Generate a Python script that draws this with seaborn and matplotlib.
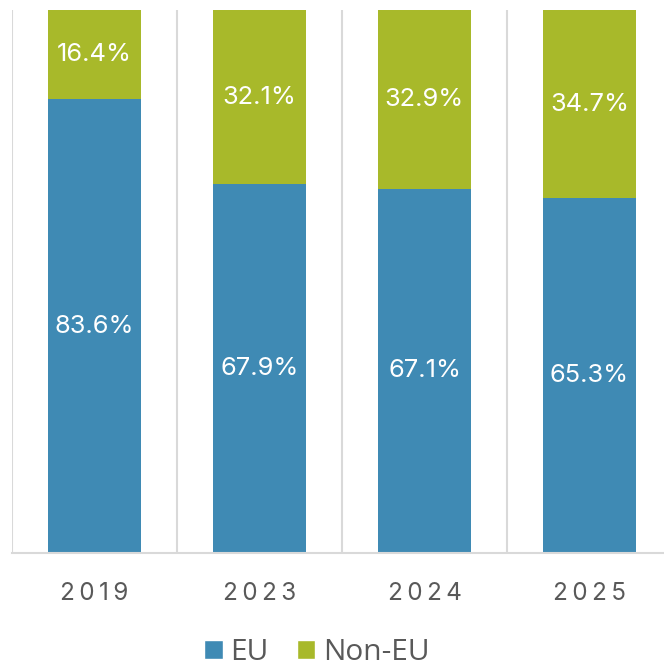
import matplotlib
matplotlib.use("Agg")
import matplotlib.pyplot as plt
import seaborn as sns
import pandas as pd
from matplotlib.patches import Patch

years = ["2019", "2023", "2024", "2025"]
eu = [83.6, 67.9, 67.1, 65.3]
non_eu = [16.4, 32.1, 32.9, 34.7]

blue = "#3F8AB4"
green = "#A8B92A"
grey_text = "#595959"

df = pd.DataFrame({"year": years, "EU": eu, "Non-EU": non_eu})
df["total"] = df["EU"] + df["Non-EU"]

sns.set_theme(style="white")
plt.rcParams["font.family"] = ["Inter", "DejaVu Sans"]

fig = plt.figure(figsize=(6.64, 6.71), dpi=100)
ax = fig.add_axes([12 / 664, 118 / 671, 660 / 664, 543 / 671])

sns.barplot(data=df, x="year", y="total", color=green, width=0.558,
            saturation=1, ax=ax, edgecolor="none")
sns.barplot(data=df, x="year", y="EU", color=blue, width=0.558,
            saturation=1, ax=ax, edgecolor="none")

ax.set_ylim(0, 100)
ax.set_xlim(-0.5, 3.5)
ax.set_xlabel("")
ax.set_ylabel("")
ax.set_yticks([])

# category separators
for xv in [-0.5, 0.5, 1.5, 2.5, 3.5]:
    ax.axvline(xv, color="#D9D9D9", lw=1.5, zorder=0)

for s in ["top", "right", "left"]:
    ax.spines[s].set_visible(False)
ax.spines["bottom"].set_color("#D9D9D9")
ax.spines["bottom"].set_linewidth(1.5)

# spaced-out year labels
ax.set_xticks(range(len(years)))
ax.set_xticklabels(["\u2009".join(y) for y in years], color=grey_text,
                   fontsize=17.5)
ax.tick_params(axis="x", length=0, pad=21)

for i in range(len(years)):
    ax.text(i, eu[i] / 2, f"{eu[i]:.1f}%", ha="center", va="center",
            color="white", fontsize=18.3)
    ax.text(i, eu[i] + non_eu[i] / 2, f"{non_eu[i]:.1f}%", ha="center",
            va="center", color="white", fontsize=18.3)

handles = [Patch(facecolor=blue, label="EU"), Patch(facecolor=green, label="Non-EU")]
fig.legend(handles=handles, loc="center", bbox_to_anchor=(0.477, 0.028),
           ncol=2, frameon=False, handlelength=0.62,
           handleheight=0.62, handletextpad=0.25, columnspacing=0.95,
           borderpad=0.1, labelcolor=grey_text,
           prop={"family": ["Open Sans", "DejaVu Sans"], "size": 21.5})

fig.savefig("out.png", dpi=100)
